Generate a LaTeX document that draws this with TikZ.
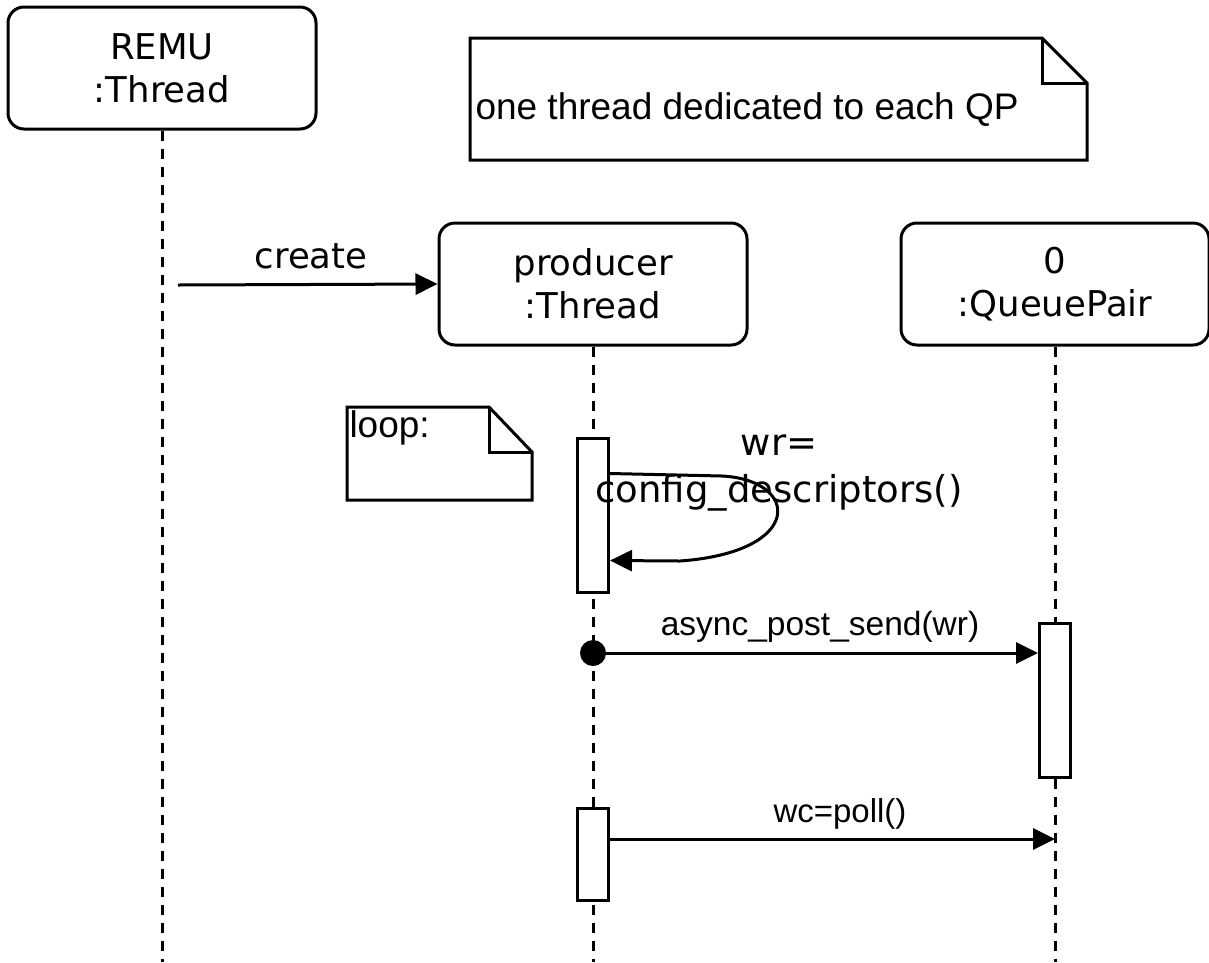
\documentclass[tikz,border=0pt]{standalone}
\usepackage{fontspec}
\setmainfont{DejaVu Sans}
\newfontfamily\arialf{Liberation Sans}
\usetikzlibrary{arrows.meta,calc}
\begin{document}
\begin{tikzpicture}[x=1pt,y=-1pt, line width=3pt,
  obj/.style={draw, rounded corners=16pt, minimum width=308pt, minimum height=122pt, align=center, font=\fontsize{35.5}{43}\selectfont, inner sep=0pt},
  act/.style={draw, fill=white, minimum width=31pt, inner sep=0pt},
  life/.style={dash pattern=on 10pt off 8pt, line width=3pt},
  msg/.style={-{Triangle[length=22pt,width=21pt]}, line width=3pt},
  hdr/.style={font=\fontsize{35.5}{43}\selectfont, inner sep=0pt, align=center},
  ari/.style={font=\arialf\fontsize{34}{40}\selectfont, inner sep=0pt},
  notebox/.style={draw, line width=3pt, fill=white}
]
\useasboundingbox (0,0) rectangle (1209,962);

% objects
\node[obj] (remu) at (162,68) {REMU\\:Thread};
\node[obj] (prod) at (593,284) {producer\\:Thread};
\node[obj] (qp) at (1055,284) {0\\:QueuePair};

% lifeline ends
\coordinate (remuend) at (162,962);
\coordinate (prodend) at (593,962);
\coordinate (qpend) at (1055,962);
\draw[life] (remu.south) -- (remuend);
\draw[life] (prod.south) -- (prodend);
\draw[life] (qp.south) -- (qpend);

% activations
\node[act, minimum height=154pt] (act1) at (593,515) {};
\node[act, minimum height=154pt] (act2) at (1055,700) {};
\node[act, minimum height=92pt] (act3) at (593,854) {};

% top note
\draw[notebox] (470,38) -- (1042,38) -- (1087,83) -- (1087,160) -- (470,160) -- cycle;
\draw[line width=3pt] (1042,38) -- (1042,83) -- (1087,83);
\node[ari, anchor=west, font=\arialf\fontsize{37}{40}\selectfont] (note1) at (474,110) {one thread dedicated to each QP};

% loop note
\draw[notebox] (347,407) -- (489,407) -- (532,452) -- (532,500) -- (347,500) -- cycle;
\draw[line width=3pt] (489,407) -- (489,452) -- (532,452);
\node[ari, anchor=west, font=\arialf\fontsize{37}{40}\selectfont] (note2) at (348,428) {loop:};

% create
\coordinate (cs) at (178,285);
\draw[msg] (cs) -- (prod.west);
\node[hdr] (lcreate) at (311,256) {create};

% self message
\coordinate (sa) at ($(act1.north east)+(0,37)$);
\coordinate (sb) at ($(act1.north east)+(0,124)$);
\draw[msg] (sa) -- (722,476) .. controls (800,480) and (805,552) .. (680,561) -- (sb);
\node[hdr, font=\fontsize{37}{47}\selectfont] (lself) at (779,473) {wr=\\config\_descriptors()};

% async
\coordinate (da) at (593,653);
\draw[msg] (da) -- (act2.west |- da);
\fill (da) circle (13pt);
\node[ari, font=\arialf\fontsize{33.5}{36}\selectfont] (lasync) at (820,627) {async\_post\_send(wr)};

% poll
\coordinate (pa) at (act3.east |- 0,839);
\coordinate (pb) at (1055,839);
\draw[msg] (act3.east |- pa) -- (pb);
\node[ari, font=\arialf\fontsize{33}{36}\selectfont] (lpoll) at (840,814) {wc=poll()};
\end{tikzpicture}
\end{document}
